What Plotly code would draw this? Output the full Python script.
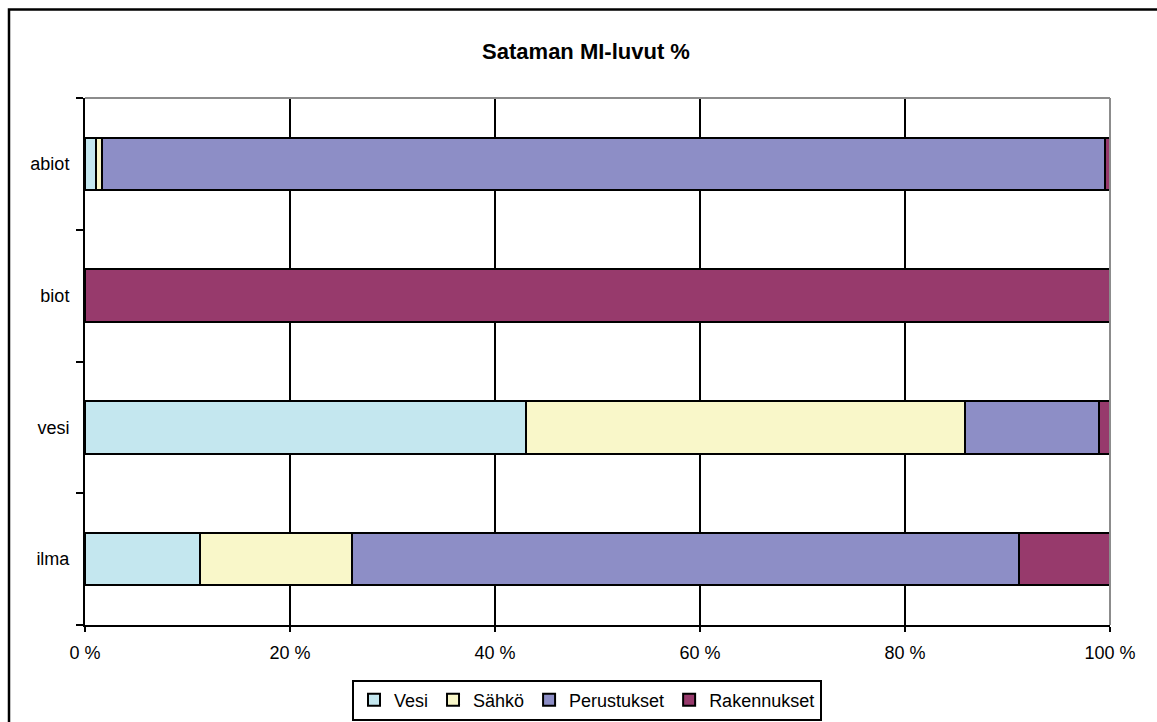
import plotly.graph_objects as go

categories = ["ilma", "vesi", "biot", "abiot"]
series_names = ["Vesi", "Sähkö", "Perustukset", "Rakennukset"]
vesi = [11.2, 43.0, 0.0, 1.1]
sahko = [14.8, 42.9, 0.0, 0.6]
perustukset = [65.1, 13.0, 0.0, 97.8]
rakennukset = [8.9, 1.1, 100.0, 0.5]
colors = ["#C4E7EF", "#F9F7C9", "#8D8EC6", "#973A6C"]
tick_vals = [0, 20, 40, 60, 80, 100]
tick_text = ["0 %", "20 %", "40 %", "60 %", "80 %", "100 %"]

W, H = 1157, 722
L, R, T, B = 85, 47, 98, 97
pw, ph = W - L - R, H - T - B

fig = go.Figure()
for name, vals, col in zip(series_names, [vesi, sahko, perustukset, rakennukset], colors):
    fig.add_trace(go.Bar(
        y=categories, x=vals, name=name, orientation="h",
        marker=dict(color=col, line=dict(color="black", width=2)),
        hoverinfo="skip",
    ))

def px_x(p):
    return (p - L) / pw

def px_y(p):
    return (H - B - p) / ph

fig.update_layout(
    width=W, height=H,
    margin=dict(l=L, r=R, t=T, b=B, autoexpand=False),
    barmode="stack", bargap=0.6,
    plot_bgcolor="white", paper_bgcolor="white",
    font=dict(family="Liberation Sans, Arial, sans-serif", size=18, color="black"),
    title=dict(text="<b>Sataman MI-luvut %</b>", x=0.5 * (474 + 698) / W, xanchor="center",
               y=1 - 51 / H, yanchor="middle", font=dict(size=22)),
    xaxis=dict(range=[0, 100], tickvals=tick_vals, ticktext=tick_text,
               showgrid=True, gridcolor="black", gridwidth=2,
               showline=True, linecolor="black", linewidth=2,
               ticks="outside", ticklen=5, tickwidth=2, tickcolor="black",
               ticklabelstandoff=5,
               zeroline=False, fixedrange=True),
    yaxis=dict(type="category", categoryorder="array", categoryarray=categories,
               showgrid=False, showline=True, linecolor="black", linewidth=2,
               ticks="outside", tickson="boundaries", ticklen=7, tickwidth=2,
               tickcolor="black", ticksuffix="  ", fixedrange=True),
    legend=dict(orientation="h", x=px_x(587), xanchor="center", y=px_y(700), yanchor="middle",
                bordercolor="black", borderwidth=2, bgcolor="white",
                itemwidth=30, font=dict(size=18), traceorder="normal"),
    shapes=[
        dict(type="line", xref="paper", yref="paper", x0=0, x1=1, y0=1, y1=1,
             line=dict(color="#8C8C8C", width=2), layer="above"),
        dict(type="line", xref="paper", yref="paper", x0=1, x1=1, y0=0, y1=1,
             line=dict(color="#8C8C8C", width=2), layer="above"),
        dict(type="rect", xref="paper", yref="paper",
             x0=px_x(9), x1=px_x(1200), y0=px_y(760), y1=px_y(9.5),
             line=dict(color="black", width=2.5), layer="below"),
    ],
)

fig.write_html("out.html")
